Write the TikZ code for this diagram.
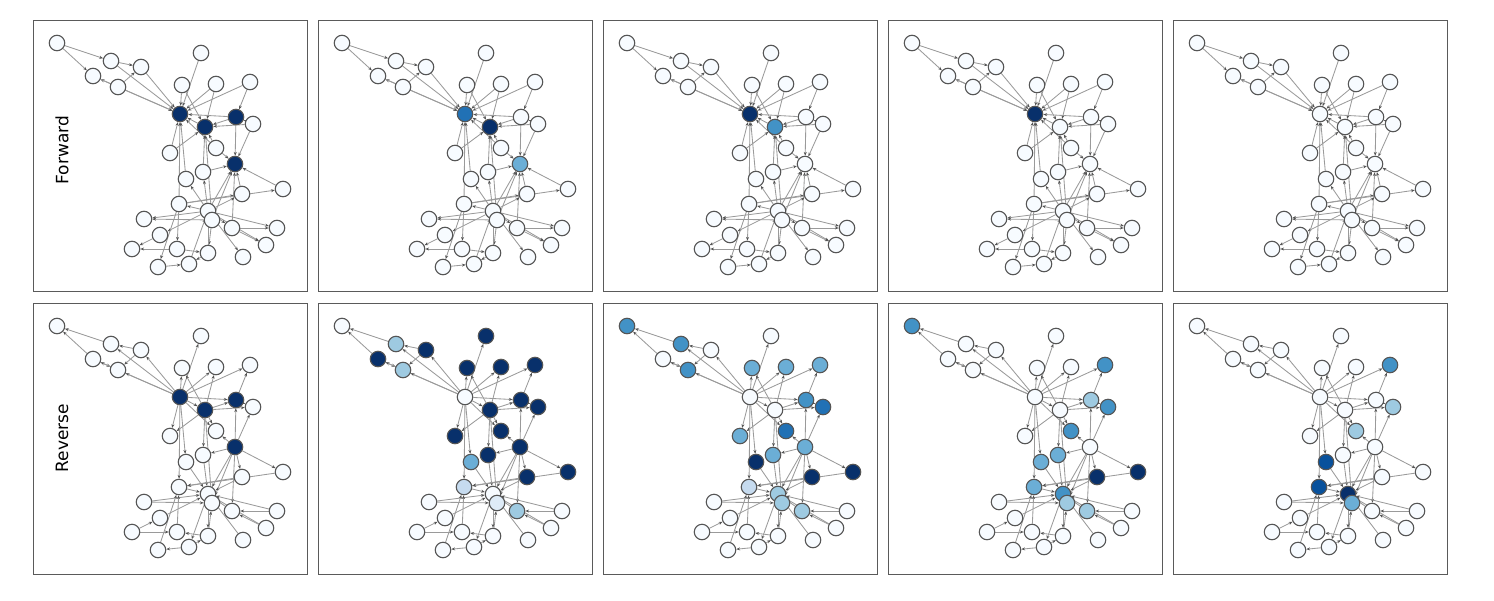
\documentclass[tikz,border=0pt]{standalone}
\usepackage{fontspec}
\setmainfont{DejaVu Sans}
\usetikzlibrary{arrows.meta,backgrounds}
\definecolor{c0}{HTML}{F7FBFF}
\definecolor{c1}{HTML}{DEEBF7}
\definecolor{c2}{HTML}{C6DBEF}
\definecolor{c3}{HTML}{9ECAE1}
\definecolor{c4}{HTML}{6BAED6}
\definecolor{c5}{HTML}{4292C6}
\definecolor{c6}{HTML}{2171B5}
\definecolor{c7}{HTML}{08519C}
\definecolor{c8}{HTML}{08306B}
\definecolor{edgecol}{HTML}{9A9A9A}
\definecolor{tipcol}{HTML}{555555}
\definecolor{rimcol}{HTML}{555555}
\definecolor{framecol}{HTML}{5A5A5A}
\newcommand\nodecol[3]{\expandafter\def\csname nc-#1-#2\endcsname{#3}}
\newcommand\getcol[2]{\ifcsname nc-#1-#2\endcsname\csname nc-#1-#2\endcsname\else c0\fi}
% panel 1
\nodecol{1}{J}{c8}\nodecol{1}{K}{c8}\nodecol{1}{L}{c8}\nodecol{1}{P}{c8}
% panel 2
\nodecol{2}{J}{c6}\nodecol{2}{L}{c8}\nodecol{2}{P}{c4}
% panel 3
\nodecol{3}{J}{c8}\nodecol{3}{L}{c5}
% panel 4
\nodecol{4}{J}{c8}
% panel 6
\nodecol{6}{J}{c8}\nodecol{6}{K}{c8}\nodecol{6}{L}{c8}\nodecol{6}{P}{c8}
% panel 7
\nodecol{7}{B}{c3}\nodecol{7}{C}{c8}\nodecol{7}{D}{c3}\nodecol{7}{E}{c8}
\nodecol{7}{F}{c8}\nodecol{7}{G}{c8}\nodecol{7}{H}{c8}\nodecol{7}{I}{c8}
\nodecol{7}{K}{c8}\nodecol{7}{L}{c8}\nodecol{7}{M}{c8}\nodecol{7}{N}{c8}
\nodecol{7}{O}{c8}\nodecol{7}{P}{c8}\nodecol{7}{Q}{c4}\nodecol{7}{R}{c8}
\nodecol{7}{S}{c8}\nodecol{7}{T}{c8}\nodecol{7}{U}{c2}\nodecol{7}{W}{c1}
\nodecol{7}{Y}{c3}
% panel 8
\nodecol{8}{A}{c5}\nodecol{8}{B}{c5}\nodecol{8}{D}{c5}\nodecol{8}{G}{c4}
\nodecol{8}{H}{c4}\nodecol{8}{I}{c4}\nodecol{8}{K}{c5}\nodecol{8}{M}{c6}
\nodecol{8}{N}{c4}\nodecol{8}{O}{c6}\nodecol{8}{P}{c4}\nodecol{8}{Q}{c8}
\nodecol{8}{R}{c4}\nodecol{8}{S}{c8}\nodecol{8}{T}{c8}\nodecol{8}{U}{c2}
\nodecol{8}{V}{c3}\nodecol{8}{W}{c3}\nodecol{8}{Y}{c3}
% panel 9
\nodecol{9}{A}{c5}\nodecol{9}{I}{c5}\nodecol{9}{K}{c3}\nodecol{9}{M}{c5}
\nodecol{9}{O}{c5}\nodecol{9}{Q}{c4}\nodecol{9}{R}{c4}\nodecol{9}{S}{c8}
\nodecol{9}{T}{c8}\nodecol{9}{U}{c4}\nodecol{9}{V}{c5}\nodecol{9}{W}{c3}
\nodecol{9}{Y}{c3}
% panel 10
\nodecol{10}{I}{c5}\nodecol{10}{M}{c3}\nodecol{10}{O}{c3}\nodecol{10}{Q}{c7}
\nodecol{10}{U}{c7}\nodecol{10}{V}{c8}\nodecol{10}{W}{c4}
\def\nodelist{A/57/43, B/111/61, C/93/76, D/118/87, E/141/67, F/201/53,
 G/182/85, H/216/84, I/250/82, J/180/114, K/236/117, L/205/127, M/253/124,
 N/170/153, O/216/148, P/235/164, Q/186/179, R/203/172, S/283/189,
 T/242/194, U/179/204, V/208/211, W/212/220, X/144/219, Y/232/228,
 Z/277/228, a/160/235, b/177/249, c/208/253, d/132/249, e/266/245,
 f/243/257, g/158/267, h/189/264}
\def\edgelist{A/B, A/C, B/E, D/C, D/E, B/J, C/J, D/J, E/J, F/J, G/J, H/J,
 I/J, I/K, G/L, H/L, K/J, K/L, M/K, M/L, L/J, K/P, M/P, O/J, O/P, O/L,
 N/L, N/J, Q/J, U/J, R/L, R/P, S/P, T/P, V/P, W/P, Y/P, V/Q, V/R, V/T,
 U/T, U/S, V/X, V/U, V/Z, V/e, V/f, V/a, W/c, U/b, a/d, b/c, b/d, g/h,
 c/h, U/g, Y/e, V/Y, Y/Z, h/V, c/V, W/L, W/X}
\tikzset{
 gnode/.style={circle, draw=rimcol, line width=1.1pt, minimum size=15.5pt, inner sep=0pt},
 gedge/.style={draw=edgecol, line width=0.85pt, -{Stealth[length=3.8pt,width=3pt,color=tipcol]}},
 frame/.style={draw=framecol, line width=0.8pt},
 rowlabel/.style={rotate=90, font=\fontsize{17pt}{20pt}\selectfont, text=black, inner sep=0pt}
}
\begin{document}
\begin{tikzpicture}[x=1pt, y=-1pt]
\useasboundingbox (0,0) rectangle (1494,600);
\foreach \p/\dx/\dy/\rev in {1/0/0/0, 2/285/0/0, 3/570/0/0, 4/855/0/0, 5/1140/0/0,
  6/0/283/1, 7/285/283/1, 8/570/283/1, 9/855/283/1, 10/1140/283/1} {
  \begin{scope}[shift={(\dx,\dy)}]
    \draw[frame] (33,20) rectangle (307,291);
    \foreach \n/\x/\y in \nodelist {
      \edef\thiscol{\getcol{\p}{\n}}
      \node[gnode, fill=\thiscol] (p\p-\n) at (\x,\y) {};
    }
    \begin{pgfonlayer}{background}
      \foreach \u/\v in \edgelist {
        \ifnum\rev=1
          \draw[gedge] (p\p-\v) -- (p\p-\u);
        \else
          \draw[gedge] (p\p-\u) -- (p\p-\v);
        \fi
      }
    \end{pgfonlayer}
  \end{scope}
}
\node[rowlabel] (lforward) at (62,150) {Forward};
\node[rowlabel] (lreverse) at (62,438) {Reverse};
\end{tikzpicture}
\end{document}
